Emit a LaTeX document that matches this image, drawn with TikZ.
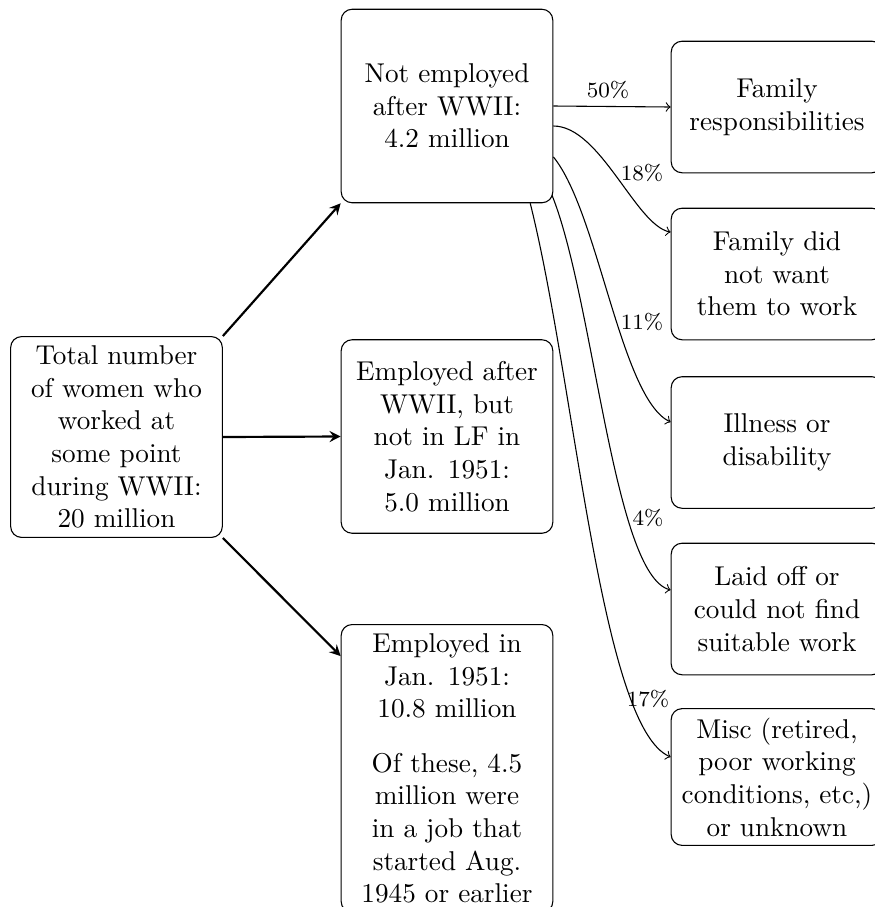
\documentclass[tikz,border=0pt]{standalone}
\usetikzlibrary{arrows}
\begin{document}
\begin{tikzpicture}[x=0.3676pt,y=-0.3676pt,
  mainbox/.style={draw, rounded corners, align=center, text width=2.5cm, minimum height=2.5cm, inner sep=3.33pt},
  sidebox/.style={draw, rounded corners, align=center, text width=2.5cm, minimum height=1.7cm, inner sep=3.33pt},
  bigarrow/.style={thick, -stealth},
  smallarrow/.style={->},
  pct/.style={font=\footnotesize, inner sep=1pt}]
\useasboundingbox (0,0) rectangle (875,907);
\node[mainbox] (A) at (116.5,437) {Total number\\ of women who\\ worked at\\ some point\\ during WWII:\\ 20 million};
\node[mainbox] (B) at (447,106) {Not employed\\ after WWII:\\ 4.2 million};
\node[mainbox] (C) at (447,436.5) {Employed after\\ WWII, but\\ not in LF in\\ Jan. 1951:\\ 5.0 million};
\node[mainbox, anchor=north] (D) at (447,624) {Employed in\\ Jan. 1951:\\ 10.8 million\\[8pt] Of these, 4.5\\ million were\\ in a job that\\ started Aug.\\ 1945 or earlier};
\node[sidebox] (R1) at (777,107) {Family\\ responsibilities};
\node[sidebox] (R2) at (777,274) {Family did\\ not want\\ them to work};
\node[sidebox] (R3) at (777,442.5) {Illness or\\ disability};
\node[sidebox] (R4) at (777,609) {Laid off or\\ could not find\\ suitable work};
\node[sidebox] (R5) at (777,777) {Misc (retired,\\ poor working\\ conditions, etc,)\\ or unknown};
\draw[bigarrow] (A.north east) -- (B.south west);
\draw[bigarrow] (A.east) -- (C.west);
\coordinate (Din) at ([yshift=-11.8pt]D.north west);
\draw[bigarrow] (A.south east) -- (Din);
\coordinate (s2) at ([yshift=-7.35pt]B.east);
\coordinate (s3) at ([yshift=-18.7pt]B.east);
\coordinate (s4) at ([shift={(-0.5pt,3pt)}]B.south east);
\coordinate (s5) at ([xshift=-8.5pt]B.south east);
\coordinate (e2) at ([yshift=15.4pt]R2.west);
\coordinate (e3) at ([yshift=7.5pt]R3.west);
\coordinate (e4) at ([yshift=7pt]R4.west);
\coordinate (e5) at ([yshift=7.35pt]R5.west);
\draw[smallarrow] (B.east) -- (R1.west);
\draw[smallarrow] (s2) .. controls +(47,0) and +(-35,-7) .. (e2);
\draw[smallarrow] (s3) .. controls +(45,55) and +(-50,-24) .. (e3);
\draw[smallarrow] (s4) .. controls +(42,105) and +(-57,-15) .. (e4);
\draw[smallarrow] (s5) .. controls +(45,180) and +(-70,-30) .. (e5);
\node[pct] (p1) at (608,90) {50\%};
\node[pct] (p2) at (642,173) {18\%};
\node[pct] (p3) at (642,322) {11\%};
\node[pct] (p4) at (648,518) {4\%};
\node[pct] (p5) at (648,699) {17\%};
\end{tikzpicture}
\end{document}
